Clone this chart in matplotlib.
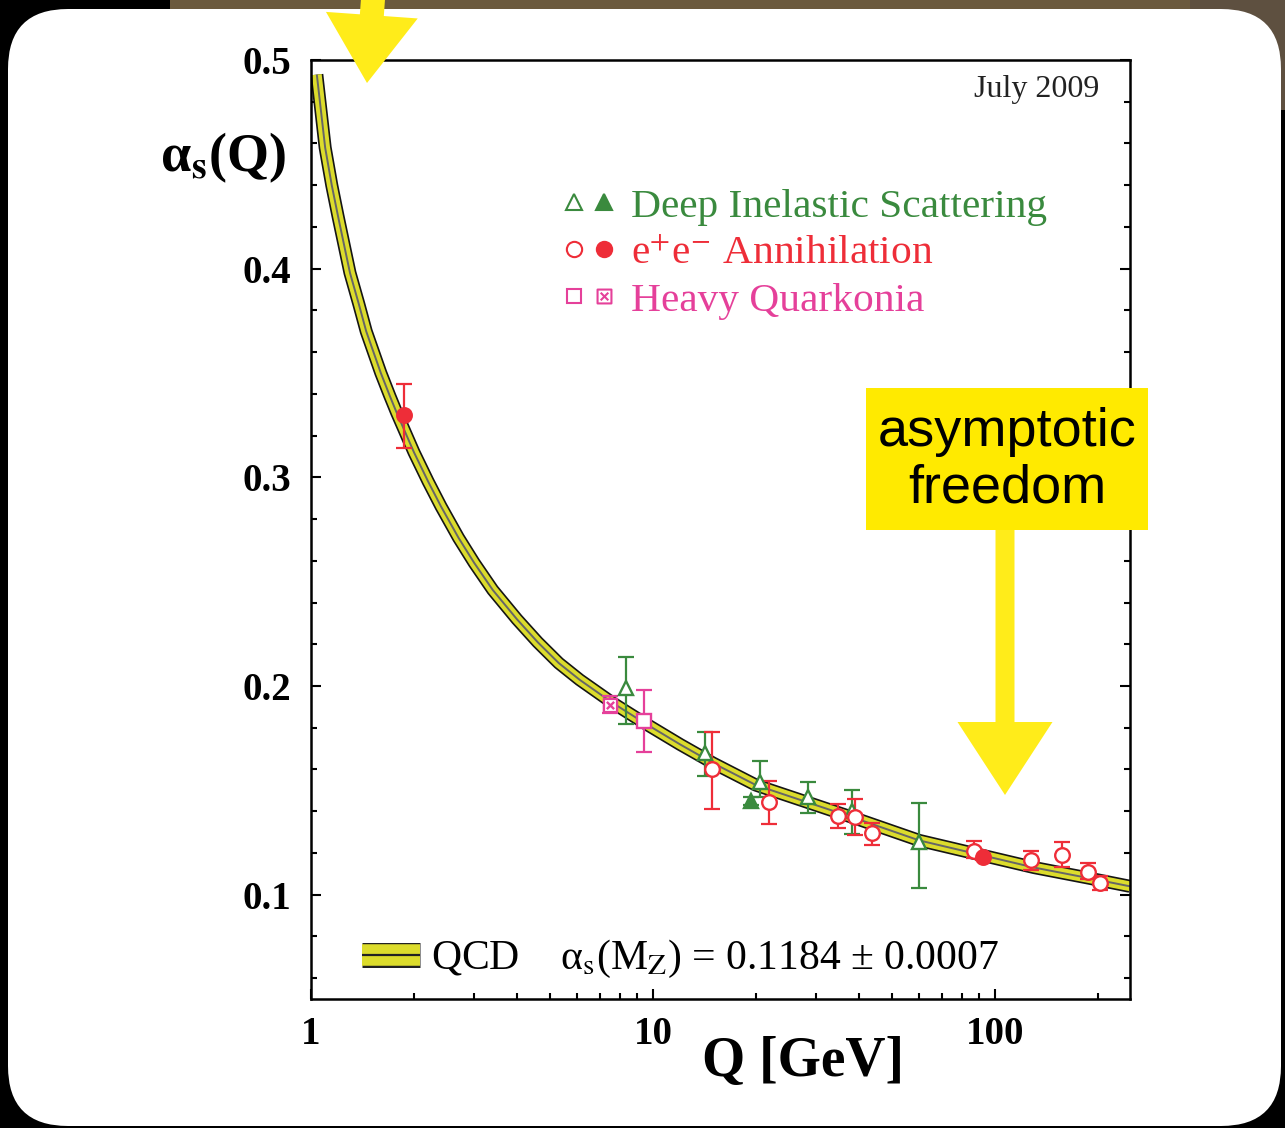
import numpy as np
import matplotlib.pyplot as plt
from matplotlib.lines import Line2D
from matplotlib.legend_handler import HandlerTuple
from matplotlib.patches import FancyBboxPatch, Rectangle, FancyArrow
from matplotlib.path import Path
from matplotlib.ticker import MultipleLocator, NullFormatter
import matplotlib.patheffects as pe

plt.rcParams['font.family'] = ['Liberation Serif', 'DejaVu Serif']
plt.rcParams['mathtext.fontset'] = 'stix'

# QCD band centre line
qcd_q = [1.04, 1.1, 1.15, 1.2, 1.3, 1.38, 1.45, 1.6, 1.7, 1.78, 2.0, 2.2, 2.4,
         2.7, 3.0, 3.4, 4.0, 4.6, 5.3, 6.1, 7.6, 9.5, 12, 15, 20, 28, 40, 60,
         91, 130, 187, 248]
qcd_a = [0.493, 0.458, 0.440, 0.425, 0.398, 0.383, 0.370, 0.350, 0.339, 0.331,
         0.312, 0.298, 0.286, 0.271, 0.259, 0.246, 0.232, 0.221, 0.211, 0.203,
         0.192, 0.182, 0.172, 0.163, 0.1525, 0.1445, 0.136, 0.126, 0.119, 0.113,
         0.108, 0.104]

# deep inelastic scattering
dis_q = [8.34, 14.2, 20.6, 28.4, 38.2, 59.9]
dis_a = [0.199, 0.168, 0.154, 0.147, 0.140, 0.125]
dis_lo = [0.017, 0.011, 0.007, 0.008, 0.011, 0.022]
dis_hi = [0.015, 0.010, 0.010, 0.007, 0.010, 0.019]
dis_full_q = [19.3]
dis_full_a = [0.145]
dis_full_err = [0.002]

# e+e- annihilation
ee_q = [14.9, 21.8, 34.8, 39.0, 43.7, 86.8, 127.4, 157, 187, 203]
ee_a = [0.160, 0.1445, 0.1378, 0.1373, 0.1297, 0.121, 0.1167, 0.119, 0.111, 0.1057]
ee_lo = [0.019, 0.0105, 0.006, 0.0086, 0.0057, 0.0035, 0.0047, 0.0056, 0.0035, 0.0037]
ee_hi = [0.018, 0.010, 0.0057, 0.0087, 0.0047, 0.0048, 0.0043, 0.006, 0.0043, 0.0033]
ee_full_q = [1.87, 92.2]
ee_full_a = [0.330, 0.118]
ee_full_lo = [0.016, 0.0015]
ee_full_hi = [0.0145, 0.0015]

# heavy quarkonia
hq_q = [9.42]
hq_a = [0.183]
hq_lo = [0.0145]
hq_hi = [0.015]
hq_full_q = [7.49]
hq_full_a = [0.191]
hq_full_err = [0.004]

green = '#3a8a3e'
red = '#ee2d38'
pink = '#e5409a'
band_yellow = '#dcdc2c'

# square with a cross inside
boxx = Path([(-1, -1), (1, -1), (1, 1), (-1, 1), (-1, -1),
             (-0.55, -0.55), (0.55, 0.55), (-0.55, 0.55), (0.55, -0.55)],
            [Path.MOVETO, Path.LINETO, Path.LINETO, Path.LINETO, Path.CLOSEPOLY,
             Path.MOVETO, Path.LINETO, Path.MOVETO, Path.LINETO])

W, H = 1285, 1128
fig = plt.figure(figsize=(W / 100, H / 100), dpi=100)
fig.patch.set_facecolor('black')

# background card
bg = fig.add_axes([0, 0, 1, 1], zorder=0)
bg.set_xlim(0, W)
bg.set_ylim(H, 0)
bg.axis('off')
bg.add_patch(Rectangle((170, 0), W - 170, 12, color='#6b5a3e', lw=0))
bg.add_patch(Rectangle((1190, 0), W - 1190, 110, color='#5e5040', lw=0))
bg.add_patch(FancyBboxPatch((8, 9), 1273, 1117,
                            boxstyle='round,pad=0,rounding_size=60',
                            fc='white', ec='none'))

ax = fig.add_axes([311 / W, 1 - 999 / H, (1130 - 311) / W, (999 - 60) / H], zorder=1)
ax.set_facecolor('white')
ax.set_xscale('log')
ax.set_xlim(1, 248)
ax.set_ylim(0.05, 0.5)

# QCD band
ax.plot(qcd_q, qcd_a, color=band_yellow, lw=7, solid_capstyle='butt',
        solid_joinstyle='round',
        path_effects=[pe.Stroke(linewidth=9.4, foreground='#151515'), pe.Normal()],
        zorder=2)
ax.plot(qcd_q, qcd_a, color='#666666', lw=1.4, solid_capstyle='butt',
        solid_joinstyle='round', zorder=2.1)


def points(q, a, lo, hi, marker, color, filled, ms=10.5):
    ax.errorbar(q, a, yerr=[lo, hi], fmt='none', ecolor=color,
                elinewidth=1.6, capsize=6, capthick=1.6, zorder=3)
    ax.plot(q, a, ls='none', marker=marker, mec=color, mew=1.7,
            mfc=color if filled else 'white', ms=ms, zorder=4)


points(dis_q, dis_a, dis_lo, dis_hi, '^', green, False)
points(dis_full_q, dis_full_a, dis_full_err, dis_full_err, '^', green, True)
points(ee_q, ee_a, ee_lo, ee_hi, 'o', red, False)
points(ee_full_q, ee_full_a, ee_full_lo, ee_full_hi, 'o', red, True)
points(hq_q, hq_a, hq_lo, hq_hi, 's', pink, False)
points(hq_full_q, hq_full_a, hq_full_err, hq_full_err, boxx, pink, False, ms=9.5)

# axes styling
for s in ax.spines.values():
    s.set_linewidth(1.8)
ax.set_xticks([1, 10, 100])
ax.set_xticklabels(['1', '10', '100'])
ax.xaxis.set_minor_formatter(NullFormatter())
ax.set_yticks([0.1, 0.2, 0.3, 0.4, 0.5])
ax.set_yticklabels(['0.1', '0.2', '0.3', '0.4', '0.5'])
ax.yaxis.set_minor_locator(MultipleLocator(0.02))
ax.tick_params(which='both', direction='in', right=True, top=False, width=1.5)
ax.tick_params(which='major', length=7, labelsize=28)
ax.tick_params(which='minor', length=4)
ax.tick_params(axis='y', pad=14)
ax.tick_params(axis='x', pad=12)
for lab in ax.get_xticklabels() + ax.get_yticklabels():
    lab.set_fontweight('bold')

ax.text(-0.107, 0.8956, r'α$_{\mathbf{s}}$(Q)', transform=ax.transAxes,
        ha='center', va='center', fontsize=39, fontweight='bold')
ax.text(0.601, -0.067, 'Q [GeV]', transform=ax.transAxes,
        ha='center', va='center', fontsize=40, fontweight='bold')
ax.text(0.963, 0.969, 'July 2009', transform=ax.transAxes,
        ha='right', va='center', fontsize=23, color='#222222')


# category legend
def mk(marker, color, filled, ms=11):
    return Line2D([], [], ls='none', marker=marker, mec=color, mew=1.5,
                  mfc=color if filled else 'white', ms=ms)


h_dis = (mk('^', green, False), mk('^', green, True))
h_ee = (mk('o', red, False), mk('o', red, True))
h_hq = (mk('s', pink, False, ms=10), mk(boxx, pink, False, ms=10))
leg1 = ax.legend([h_dis, h_ee, h_hq],
                 ['Deep Inelastic Scattering', r'e$^{+}$e$^{-}$ Annihilation', 'Heavy Quarkonia'],
                 handler_map={tuple: HandlerTuple(ndivide=None, pad=0.3)},
                 loc='upper left', bbox_to_anchor=(0.31, 0.864), frameon=False,
                 fontsize=29.8, labelcolor=[green, red, pink], handlelength=1.15,
                 handletextpad=0.45, labelspacing=0.22, borderpad=0, borderaxespad=0)
ax.add_artist(leg1)

# QCD legend
h_qcd = (Line2D([], [], color=band_yellow, lw=15.5, solid_capstyle='butt',
                path_effects=[pe.Stroke(linewidth=18, foreground='#222222'), pe.Normal()]),
         Line2D([], [], color='#222222', lw=1.6, solid_capstyle='butt'))
ax.legend([h_qcd], [r'QCD    α$_{\rm s}$(M$_{\rm Z}$) = 0.1184 ± 0.0007'],
          handler_map={tuple: HandlerTuple(ndivide=1)},
          loc='lower left', bbox_to_anchor=(0.062, 0.02), frameon=False,
          fontsize=30, handlelength=1.4, handletextpad=0.25, borderpad=0,
          borderaxespad=0)

# annotation overlay
fg = fig.add_axes([0, 0, 1, 1], zorder=5)
fg.set_xlim(0, W)
fg.set_ylim(H, 0)
fg.axis('off')
fg.patch.set_alpha(0)
fg.add_patch(Rectangle((866, 388), 282, 142, color='#ffea00', lw=0))
fg.text(1007, 460, 'asymptotic\nfreedom', ha='center', va='center',
        fontsize=39, family='Liberation Sans', linespacing=1.17)
fg.add_patch(FancyArrow(1005, 530, 0, 265, width=19, head_width=95, head_length=73,
                        length_includes_head=True, color='#ffec1a', lw=0))
fg.add_patch(FancyArrow(374, -15, -7, 98, width=24, head_width=92, head_length=68,
                        length_includes_head=True, color='#ffec1a', lw=0))

fig.savefig('out.png', dpi=100, facecolor=fig.get_facecolor())
